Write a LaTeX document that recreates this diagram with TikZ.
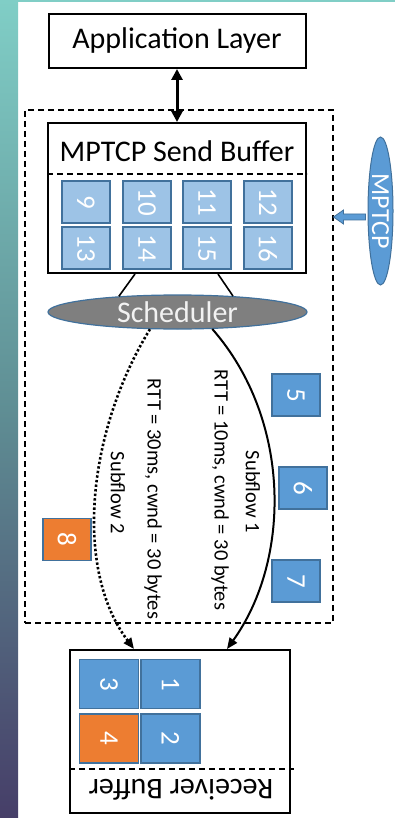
\documentclass[tikz,border=0pt]{standalone}
\usepackage{fontspec}
\usepackage{graphicx}
\setmainfont{Carlito}
\usetikzlibrary{arrows.meta,shapes.geometric,calc}

\definecolor{segblue}{HTML}{5B9BD5}
\definecolor{seglight}{HTML}{9DC3E6}
\definecolor{segline}{HTML}{41719C}
\definecolor{segorange}{HTML}{ED7D31}
\definecolor{schedgray}{HTML}{7F7F7F}
\definecolor{stripTop}{HTML}{80CEC6}
\definecolor{stripMid}{HTML}{5F8E94}
\definecolor{stripBot}{HTML}{463E68}

\newcommand{\fsz}[1]{\fontsize{#1}{#1}\selectfont}
\newcommand{\turn}[1]{\rotatebox{-90}{#1}}

\begin{document}
\begin{tikzpicture}[x=1pt,y=-1pt,
  layerbox/.style={draw, line width=2pt, inner sep=0pt, font=\fsz{30}},
  seg/.style={draw=segline, line width=1.3pt, inner sep=0pt, text=white,
    font=\fsz{27}, minimum width=48pt, minimum height=42pt},
  rseg/.style={seg, minimum width=59pt, minimum height=49pt},
  rotlabel/.style={rotate=-90, inner sep=0pt, font=\fsz{20.5}},
  conn/.style={line width=1.6pt},
  tip/.style={-{Triangle[length=11pt,width=9pt]}},
]
\useasboundingbox (0,0) rectangle (395,818);
% page background and side strip
\fill[white] (0,0) rectangle (395,818);
\shade[top color=stripTop, bottom color=stripBot, middle color=stripMid]
  (0,0) rectangle (18,818);
\fill[stripTop] (0,0) rectangle (395,2);

% layers
\node[layerbox, minimum width=257pt, minimum height=54pt] (app) at (177,41) {Application Layer};
\node[layerbox, minimum width=258pt, minimum height=150pt] (send) at (177,198) {};
\node[font=\fsz{30}, inner sep=0pt] (sendtitle) at (177,151) {MPTCP Send Buffer};
\draw[dashed, line width=1.3pt, dash pattern=on 6pt off 4pt]
  ([yshift=-52pt]send.north west) -- ([yshift=-52pt]send.north east);

% connection boundary
\node[draw, dashed, line width=1.3pt, dash pattern=on 6pt off 4pt,
  minimum width=308pt, minimum height=513pt, inner sep=0pt] (conn) at (179,366.5) {};

\draw[line width=3pt, {Triangle[length=11pt,width=11pt]}-{Triangle[length=11pt,width=11pt]}]
  (app.south) -- (send.north);

% send buffer segments
\node[seg, fill=seglight] (b9)  at (86,202)  {\turn{9}};
\node[seg, fill=seglight] (b10) at (147,202) {\turn{10}};
\node[seg, fill=seglight] (b11) at (207,202) {\turn{11}};
\node[seg, fill=seglight] (b12) at (268,202) {\turn{12}};
\node[seg, fill=seglight] (b13) at (86,248)  {\turn{13}};
\node[seg, fill=seglight] (b14) at (147,248) {\turn{14}};
\node[seg, fill=seglight] (b15) at (207,248) {\turn{15}};
\node[seg, fill=seglight] (b16) at (268,248) {\turn{16}};

% path manager
\node[ellipse, fill=segblue, draw=segline, line width=1pt, inner sep=0pt,
  minimum width=25pt, minimum height=148pt] (mp) at (380.5,211) {};
\node[rotate=-90, text=white, font=\fsz{26}, inner sep=0pt] (mptext) at (mp.center) {MPTCP};
\draw[fill=segblue, draw=segline, line width=0.8pt]
  ([shift={(-2,3)}]mp.west) -- ++(-22,0) -- ++(0,-4) -- ++(-10,7)
  -- ++(10,7) -- ++(0,-4) -- ++(22,0) -- cycle;

% scheduler
\node[ellipse, fill=schedgray, draw=segline, line width=1.2pt, inner sep=0pt,
  minimum width=259pt, minimum height=34pt, text=white!95!black, font=\fsz{30}]
  (sched) at (177.5,312) {Scheduler};
\draw[conn] ([xshift=-42pt]send.south) -- (sched.165);
\draw[conn] ([xshift=41pt]send.south) -- (sched.16);

% receiver
\node[layerbox, minimum width=220pt, minimum height=163pt] (recv) at (180,731.5) {};
\draw[dashed, line width=1.3pt, dash pattern=on 6pt off 4pt]
  ([yshift=45pt]recv.south west) -- ([shift={(3pt,45pt)}]recv.south east);
\node[rotate=180, font=\fsz{30}, inner sep=0pt] (recvtitle) at (181,790) {Receiver Buffer};
\node[rseg, fill=segblue]   (r3) at (109,684)   {\turn{3}};
\node[rseg, fill=segblue]   (r1) at (170.5,684) {\turn{1}};
\node[rseg, fill=segorange] (r4) at (109,738.5) {\turn{4}};
\node[rseg, fill=segblue]   (r2) at (170.5,738.5) {\turn{2}};

% subflows
\draw[conn, line width=2pt, tip] (sched.-26) .. controls (292,420) and (291,560) .. ([xshift=47pt]recv.north);
\draw[line width=2.6pt, dash pattern=on 2.4pt off 2.2pt, tip] (sched.-148) .. controls (88,430) and (73,568) .. ([xshift=-46pt]recv.north);

\node[rotlabel] (sf1) at (253,492) {Subflow 1};
\node[rotlabel] (rtt1) at (220,490) {RTT = 10ms, cwnd = 30 bytes};
\node[rotlabel] (rtt2) at (153,499) {RTT = 30ms, cwnd = 30 bytes};
\node[rotlabel] (sf2) at (118,493) {Subflow 2};

% segments in flight
\node[seg, fill=segblue]   (s5) at (296,395) {\turn{5}};
\node[seg, fill=segblue]   (s6) at (303,488) {\turn{6}};
\node[seg, fill=segblue]   (s7) at (296,581) {\turn{7}};
\node[seg, fill=segorange] (s8) at (67,539.5) {\turn{8}};
\end{tikzpicture}
\end{document}
